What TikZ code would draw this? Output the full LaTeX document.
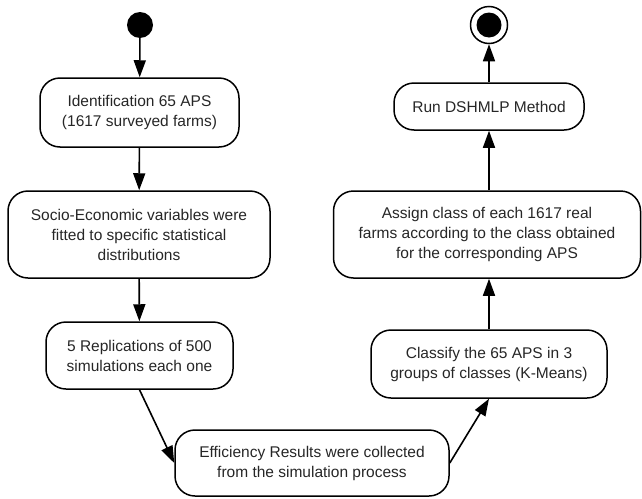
\documentclass[tikz,border=0pt]{standalone}
\usepackage{fontspec}
\setmainfont{Liberation Sans}
\usetikzlibrary{arrows.meta}
\begin{document}
\begin{tikzpicture}[x=1pt,y=1pt,
  act/.style={draw=black, line width=1.5pt, rounded corners=20pt, align=center,
    inner sep=0pt, text=black!85, font=\fontsize{15.5}{20}\selectfont},
  flow/.style={line width=1.6pt, -{Triangle[length=17pt,width=12pt]}},
]
\useasboundingbox (0,0) rectangle (642,-498);
\node[circle, fill=black, minimum size=26pt, inner sep=0pt] (start) at (140,-25) {};
\node[act, minimum width=199pt, minimum height=69pt] (b1) at (139.5,-112.5) {Identification 65 APS\\(1617 surveyed farms)};
\node[act, minimum width=262pt, minimum height=87pt] (b2) at (139,-234.5) {Socio-Economic variables were\\fitted to specific statistical\\distributions};
\node[act, minimum width=187pt, minimum height=67pt] (b3) at (139.5,-355.5) {5 Replications of 500\\simulations each one};
\node[act, minimum width=274pt, minimum height=66pt] (b4) at (312,-463) {Efficiency Results were collected\\from the simulation process};
\node[act, minimum width=236pt, minimum height=68pt] (b5) at (489,-364) {Classify the 65 APS in 3\\groups of classes (K-Means)};
\node[act, minimum width=307pt, minimum height=87pt] (b6) at (487,-234.5) {Assign class of each 1617 real\\farms according to the class obtained\\for the corresponding APS};
\node[act, minimum width=190pt, minimum height=47pt] (b7) at (489,-106.5) {Run DSHMLP Method};
\node[circle, draw=black, line width=1.5pt, minimum size=37pt, inner sep=0pt] (end) at (489,-25) {};
\node[circle, fill=black, minimum size=25pt, inner sep=0pt] (endin) at (end.center) {};
\draw[flow] (start) -- (b1);
\draw[flow] (b1) -- (b2);
\draw[flow] (b2) -- (b3);
\draw[flow] (b3.south) -- (b4.west);
\draw[flow] (b4.east) -- (b5.south);
\draw[flow] (b5.north) -- (b6.south -| b5.north);
\draw[flow] (b6.north -| b7.south) -- (b7.south);
\draw[flow] (b7) -- (end);
\end{tikzpicture}
\end{document}
